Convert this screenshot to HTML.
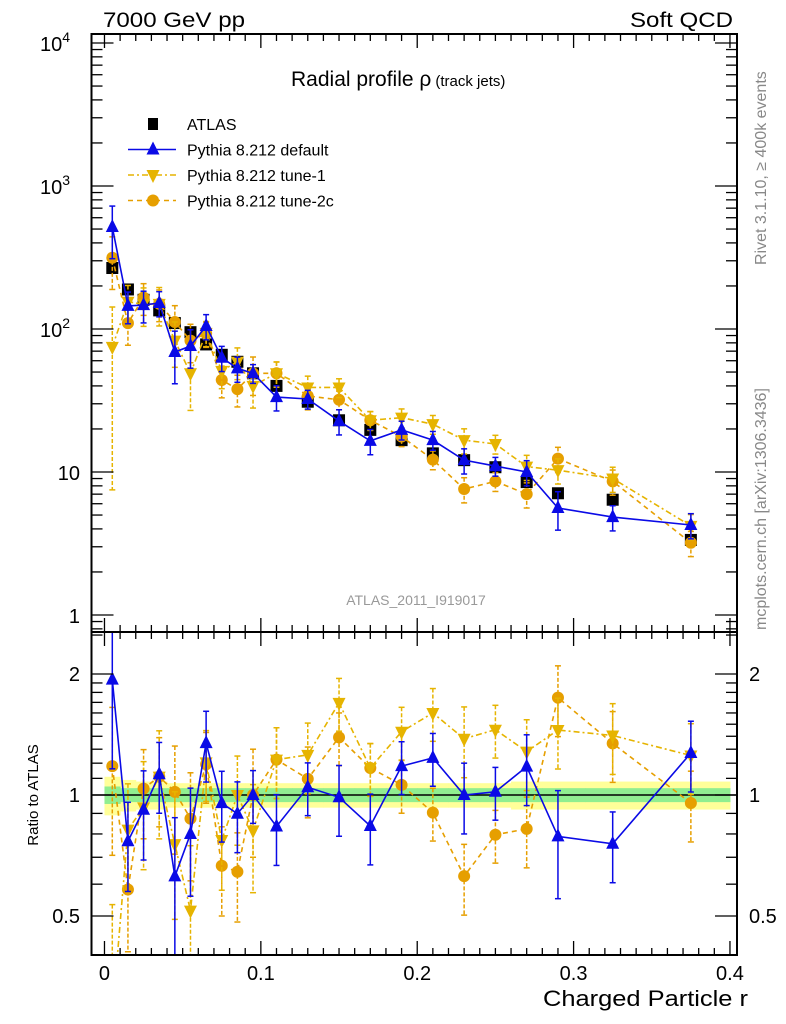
<!DOCTYPE html>
<html><head><meta charset="utf-8"><style>
html,body{margin:0;padding:0;background:#fff;width:786px;height:1024px;overflow:hidden;}
svg{display:block;font-family:"Liberation Sans",Arial,sans-serif;overflow:hidden;}
</style></head><body>
<svg id="chart" width="786" height="1024" viewBox="0 0 786 1024" xmlns="http://www.w3.org/2000/svg"></svg>
<script>
const xCenters = [0.005,0.015,0.025,0.035,0.045,0.055,0.065,0.075,0.085,0.095,0.11,0.13,0.15,0.17,0.19,0.21,0.23,0.25,0.27,0.29,0.325,0.375];
const atlasValues = [267,189,160,135,110,95,78,66,59,49,40,31,23,19.7,16.7,13.5,12.1,10.8,8.5,7.1,6.4,3.35];
const atlasErrFracYellow = [0.11,0.09,0.08,0.08,0.07,0.07,0.07,0.07,0.07,0.07,0.07,0.07,0.07,0.07,0.07,0.07,0.07,0.07,0.08,0.08,0.08,0.08];
const atlasErrFracGreen = [0.05,0.04,0.04,0.04,0.04,0.04,0.04,0.04,0.04,0.04,0.04,0.04,0.04,0.04,0.04,0.04,0.04,0.04,0.04,0.04,0.04,0.04];
const defaultValues = [517,145,147,152,69,76,105,63,53,49,33.4,32.4,22.7,16.5,19.7,16.7,12.1,11,10,5.6,4.84,4.26];
const defaultErr = [0.4,0.25,0.25,0.2,0.4,0.3,0.2,0.2,0.2,0.15,0.2,0.15,0.2,0.2,0.15,0.15,0.2,0.15,0.2,0.3,0.2,0.2];
const tune1Values = [75,155,149,150,83,49,94,51,59,40,49,39,39,23,24,21.6,16.7,15.7,10.9,10.3,9,4.2];
const tune1Err = [0.9,0.3,0.3,0.3,0.35,0.45,0.2,0.25,0.25,0.3,0.2,0.2,0.15,0.15,0.15,0.15,0.2,0.15,0.2,0.2,0.2,0.2];
const tune2cValues = [315,110,166,150,112,83,93,44,38,49,49,34,32,23,17.7,12.2,7.6,8.6,7.0,12.4,8.6,3.2];
const tune2cErr = [0.4,0.3,0.25,0.25,0.3,0.3,0.2,0.25,0.25,0.3,0.2,0.2,0.15,0.15,0.15,0.15,0.2,0.15,0.2,0.2,0.2,0.2];
const xTicks = [0,0.1,0.2,0.3,0.4];
const xTickLabels = ["0","0.1","0.2","0.3","0.4"];
const ratioTicks = [0.5,1,2];
const ratioTickLabels = ["0.5","1","2"];

const NS="http://www.w3.org/2000/svg";
const svg=document.getElementById('chart');
const L=91.5,R=737,T=34,MB=632,RB=955;
const xMin=-0.0083,xMax=0.4045;
const X=v=>L+(v-xMin)/(xMax-xMin)*(R-L);
const Y=v=>615-143*Math.log10(v);
const RY=v=>795-121*Math.log2(v);
function el(tag,attrs,parent){const e=document.createElementNS(NS,tag);for(const k in attrs)e.setAttribute(k,attrs[k]);(parent||svg).appendChild(e);return e;}
function txt(s,attrs,parent){const e=el('text',attrs,parent);e.textContent=s;return e;}

const defs=el('defs',{});
const c1=el('clipPath',{id:'cm'},defs);el('rect',{x:L,y:T,width:R-L,height:MB-T},c1);
const c2=el('clipPath',{id:'cr'},defs);el('rect',{x:L,y:MB,width:R-L,height:RB-MB},c2);

const bandG=el('g',{'clip-path':'url(#cr)'});


function edges(i){const lo=i===0?0:(xCenters[i-1]+xCenters[i])/2;const hi=i===xCenters.length-1?0.4:(xCenters[i]+xCenters[i+1])/2;return[lo,hi];}
xCenters.forEach((x,i)=>{const[lo,hi]=edges(i);
 el('rect',{x:X(lo),y:RY(1+atlasErrFracYellow[i]),width:X(hi)-X(lo)+0.5,height:RY(1-atlasErrFracYellow[i])-RY(1+atlasErrFracYellow[i]),fill:'#ffff99'},bandG);});
xCenters.forEach((x,i)=>{const[lo,hi]=edges(i);
 el('rect',{x:X(lo),y:RY(1+atlasErrFracGreen[i]),width:X(hi)-X(lo)+0.5,height:RY(1-atlasErrFracGreen[i])-RY(1+atlasErrFracGreen[i]),fill:'#90ee90'},bandG);});
el('line',{x1:L,x2:R,y1:RY(1),y2:RY(1),stroke:'#000','stroke-width':1.5});

function marker(g,type,cx,cy,color){
 if(type==='sq')el('rect',{x:cx-6,y:cy-6,width:12,height:12,fill:'#000'},g);
 else if(type==='up')el('polygon',{points:`${cx},${cy-8} ${cx-6.5},${cy+5} ${cx+6.5},${cy+5}`,fill:color},g);
 else if(type==='down')el('polygon',{points:`${cx},${cy+8} ${cx-6.5},${cy-5} ${cx+6.5},${cy-5}`,fill:color},g);
 else el('circle',{cx:cx,cy:cy,r:6,fill:color},g);
}
const series=[
 {name:'pythia-default',vals:defaultValues,err:defaultErr,color:'#0a0ae6',dash:'',m:'up'},
 {name:'pythia-tune-1',vals:tune1Values,err:tune1Err,color:'#e6b400',dash:'6,3,2,3',m:'down'},
 {name:'pythia-tune-2c',vals:tune2cValues,err:tune2cErr,color:'#e69f00',dash:'5,4',m:'circ'}];

function drawSeries(s,main){
 const g=el('g',{'clip-path':main?'url(#cm)':'url(#cr)'});
 
 
 const fy=main?Y:RY;
 const v=s.vals.map((d,i)=>main?d:d/atlasValues[i]);
 const pts=v.map((d,i)=>X(xCenters[i])+','+fy(d)).join(' ');
 el('polyline',{points:pts,fill:'none',stroke:s.color,'stroke-width':1.6,'stroke-dasharray':s.dash},g);
 v.forEach((d,i)=>{const cx=X(xCenters[i]);const y1=fy(d*(1+s.err[i])),y2=fy(Math.max(d*(1-s.err[i]),1e-3));
  el('line',{x1:cx,x2:cx,y1:y1,y2:y2,stroke:s.color,'stroke-width':1.5,'stroke-dasharray':s.dash?'4,2':''},g);
  el('line',{x1:cx-3,x2:cx+3,y1:y1,y2:y1,stroke:s.color,'stroke-width':1.5},g);
  el('line',{x1:cx-3,x2:cx+3,y1:y2,y2:y2,stroke:s.color,'stroke-width':1.5},g);
  marker(g,s.m,cx,fy(d),s.color);});
}
const ag=el('g',{'clip-path':'url(#cm)'});


atlasValues.forEach((d,i)=>{const cx=X(xCenters[i]);
 el('line',{x1:cx,x2:cx,y1:Y(d*(1+atlasErrFracYellow[i])),y2:Y(d*(1-atlasErrFracYellow[i])),stroke:'#000','stroke-width':1.5},ag);
 marker(ag,'sq',cx,Y(d));});
[series[2],series[1],series[0]].forEach(s=>drawSeries(s,true));
[series[2],series[1],series[0]].forEach(s=>drawSeries(s,false));

el('rect',{x:L,y:T,width:R-L,height:MB-T,fill:'none',stroke:'#000','stroke-width':2});
el('rect',{x:L,y:MB,width:R-L,height:RB-MB,fill:'none',stroke:'#000','stroke-width':2});

const tk=el('g',{stroke:'#000','stroke-width':1.3});


for(let k=0;k<=40;k++){const v=k/100,x=X(v),maj=k%10===0,len=maj?14:7;
 [[T,1],[MB,-1],[MB,1],[RB,-1]].forEach(([y0,d])=>el('line',{x1:x,x2:x,y1:y0,y2:y0+d*len},tk));}
for(let e=0;e<=4;e++)for(let m=1;m<=9;m++){const v=m*Math.pow(10,e);const y=Y(v);if(y<T||y>MB)continue;const len=m===1?22:11;
 el('line',{x1:L,x2:L+len,y1:y,y2:y},tk);el('line',{x1:R,x2:R-len,y1:y,y2:y},tk);}
for(let m=2;m<=9;m++){const y=Y(m/10);if(y<MB&&y>T){el('line',{x1:L,x2:L+11,y1:y,y2:y},tk);el('line',{x1:R,x2:R-11,y1:y,y2:y},tk);}}
[0.4,0.5,0.6,0.7,0.8,0.9,1,1.1,1.2,1.3,1.4,1.5,1.6,1.7,1.8,1.9,2,2.5].forEach(v=>{const y=RY(v);if(y<=MB||y>=RB)return;const len=ratioTicks.includes(v)?22:11;
 el('line',{x1:L,x2:L+len,y1:y,y2:y},tk);el('line',{x1:R,x2:R-len,y1:y,y2:y},tk);});

xTicks.forEach((v,i)=>{const t=txt(xTickLabels[i],{x:X(v),y:980,'font-size':20,'text-anchor':'middle'});});
ratioTicks.forEach((v,i)=>{[[80,'end'],[749,'start']].forEach(([x,a])=>{const t=txt(ratioTickLabels[i],{x:x,y:RY(v)+7,'font-size':20,'text-anchor':a});});});
const yl=[[4,'10','4'],[3,'10','3'],[2,'10','2'],[1,'10',''],[0,'1','']];
yl.forEach(([e,b,s])=>{const t=el('text',{x:s?70:80,y:Y(Math.pow(10,e))+8,'font-size':20,'text-anchor':'end'});
 t.textContent=b;if(s){const ts=el('tspan',{dy:-9,'font-size':14},t);ts.textContent=s;}});

function label(s,attrs,name){const t=txt(s,attrs);return t;}
label('7000 GeV pp',{x:103,y:27,'font-size':21,textLength:142,lengthAdjust:'spacingAndGlyphs'},'header-left');
label('Soft QCD',{x:733,y:27,'font-size':21,'text-anchor':'end',textLength:103,lengthAdjust:'spacingAndGlyphs'},'header-right');
const tt=label('Radial profile ',{x:291,y:86,'font-size':21},'plot-title');
const t2=el('tspan',{},tt);t2.textContent='ρ';const t3=el('tspan',{'font-size':15,dx:4},tt);t3.textContent='(track jets)';
label('ATLAS_2011_I919017',{x:416,y:605,'font-size':14,fill:'#999','text-anchor':'middle'},'analysis-id');
label('Rivet 3.1.10, ≥ 400k events',{x:0,y:0,'font-size':16,fill:'#888',transform:'translate(766,265) rotate(-90)'},'rivet-label');
label('mcplots.cern.ch [arXiv:1306.3436]',{x:0,y:0,'font-size':16,fill:'#888',transform:'translate(766,630) rotate(-90)'},'mcplots-label');
label('Ratio to ATLAS',{x:0,y:0,'font-size':15,'text-anchor':'middle',transform:'translate(38,795) rotate(-90)'},'ratio-axis-title');
label('Charged Particle r',{x:748,y:1006,'font-size':22,'text-anchor':'end',textLength:205,lengthAdjust:'spacingAndGlyphs'},'x-axis-title');

const lg=el('g',{});
const lgItems=[['ATLAS','sq','#000',''],['Pythia 8.212 default','up','#0a0ae6',''],['Pythia 8.212 tune-1','down','#e6b400','6,3,2,3'],['Pythia 8.212 tune-2c','circ','#e69f00','5,4']];
lgItems.forEach(([n,m,c,d],i)=>{const y=124+25.5*i;const g=el('g',{},lg);
 if(m!=='sq')el('line',{x1:128,x2:176,y1:y,y2:y,stroke:c,'stroke-width':1.5,'stroke-dasharray':d},g);
 if(m==='sq')el('rect',{x:148,y:y-6,width:10,height:12,fill:'#000'},g);else marker(g,m,153,y,c);
 txt(n,{x:187,y:y+6,'font-size':16},g);});
</script>
</body></html>
